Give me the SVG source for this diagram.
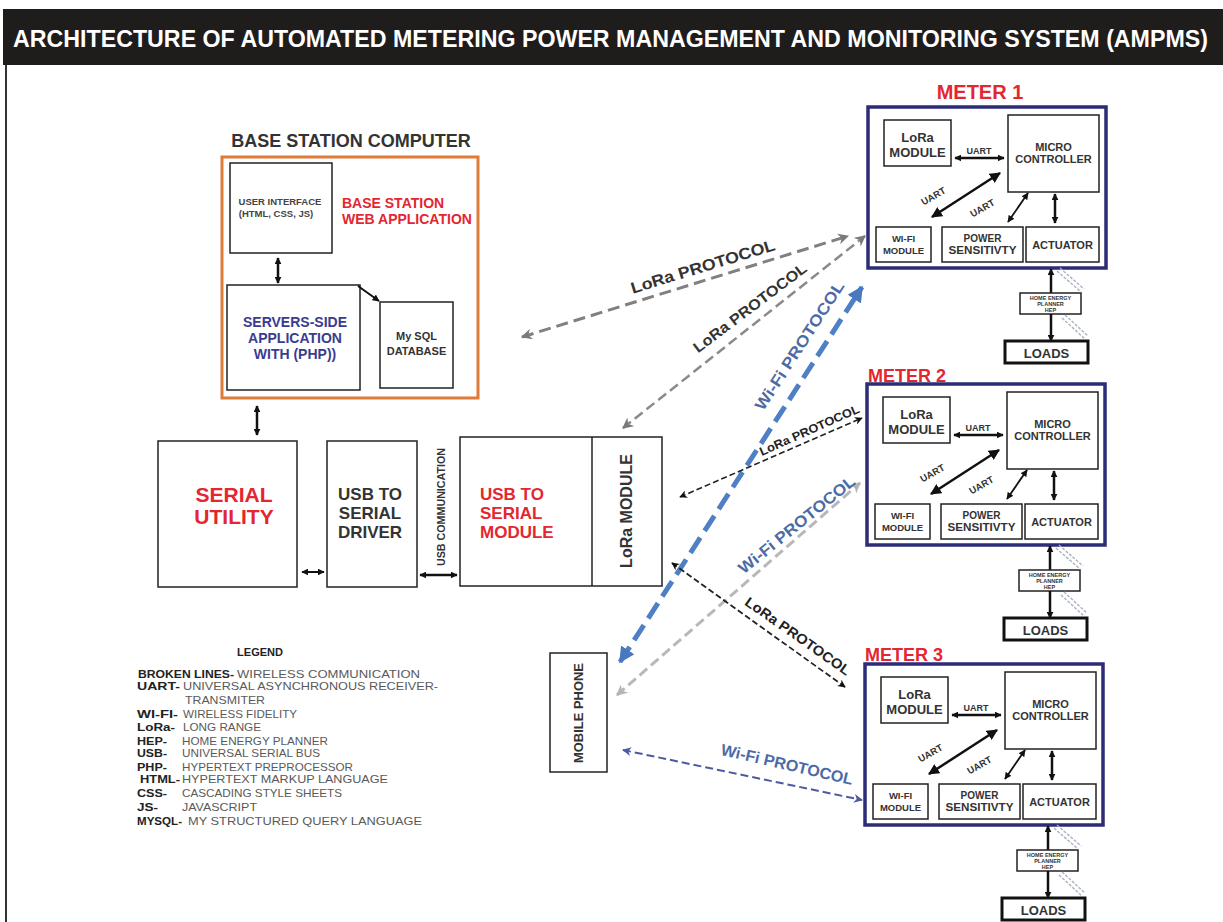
<svg xmlns="http://www.w3.org/2000/svg" width="1223" height="922" viewBox="0 0 1223 922">
<defs>
<style>
text{font-family:"Liberation Sans",Arial,sans-serif;font-weight:bold}
.c{text-anchor:middle}
.bx{fill:#fff;stroke:#222;stroke-width:1.5}
.mb{fill:#fff;stroke:#2d2c78;stroke-width:3.5}
.dk{fill:#333}
.red{fill:#e3262f}
.ar{stroke:#111;fill:none}
.lk{fill:#222;font-size:11.5px}
.lg{fill:#5a5a5a;font-size:11.5px;font-weight:normal}
.hat{stroke:#a9b3c3;stroke-width:1.4;stroke-dasharray:3 1.5;fill:none}
</style>
<marker id="hb" viewBox="0 0 10 10" refX="9" refY="5" markerWidth="7" markerHeight="7" markerUnits="userSpaceOnUse" orient="auto-start-reverse"><path d="M0,0L10,5L0,10z" fill="#111"/></marker>
<marker id="hbL" viewBox="0 0 10 10" refX="9" refY="5" markerWidth="11" markerHeight="11" markerUnits="userSpaceOnUse" orient="auto-start-reverse"><path d="M0,0L10,5L0,10z" fill="#111"/></marker>
<marker id="hg" viewBox="0 0 10 10" refX="9" refY="5" markerWidth="11" markerHeight="11" markerUnits="userSpaceOnUse" orient="auto-start-reverse"><path d="M0,0L10,5L0,10L3,5z" fill="#7a7a7a"/></marker>
<marker id="hlg" viewBox="0 0 10 10" refX="9" refY="5" markerWidth="11" markerHeight="11" markerUnits="userSpaceOnUse" orient="auto-start-reverse"><path d="M0,0L10,5L0,10L3,5z" fill="#b5b5b5"/></marker>
<marker id="hbl" viewBox="0 0 10 10" refX="9" refY="5" markerWidth="16" markerHeight="16" markerUnits="userSpaceOnUse" orient="auto-start-reverse"><path d="M0,0L10,5L0,10z" fill="#4a78bf"/></marker>
<marker id="hdb" viewBox="0 0 10 10" refX="9" refY="5" markerWidth="9" markerHeight="9" markerUnits="userSpaceOnUse" orient="auto-start-reverse"><path d="M0,0L10,5L0,10L3,5z" fill="#4e5aa0"/></marker>
<marker id="hk" viewBox="0 0 10 10" refX="9" refY="5" markerWidth="8" markerHeight="8" markerUnits="userSpaceOnUse" orient="auto-start-reverse"><path d="M0,0L10,5L0,10L3,5z" fill="#111"/></marker>
</defs>

<rect x="0" y="0" width="1223" height="922" fill="#fff"/>
<g id="title">
<rect x="3" y="9" width="1220" height="56" fill="#1f1c1c"/>
<text x="0" y="0" fill="#fff" font-size="21" textLength="1195" lengthAdjust="spacingAndGlyphs" transform="translate(13,47) scale(1,1.15)">ARCHITECTURE OF AUTOMATED METERING POWER MANAGEMENT AND MONITORING SYSTEM (AMPMS)</text>
<line x1="6" y1="65" x2="6" y2="922" stroke="#333" stroke-width="2"/>
</g>

<g id="base-station">
<text class="c" x="351" y="147" font-size="18" fill="#333">BASE STATION COMPUTER</text>
<rect x="222" y="157" width="256" height="241" fill="#fff" stroke="#e07b39" stroke-width="3"/>
<text class="red" x="342" y="208" font-size="14">BASE STATION</text>
<text class="red" x="342" y="224" font-size="14">WEB APPLICATION</text>
</g>
<g id="user-interface">
<rect class="bx" x="230" y="163" width="102" height="90"/>
<text class="c" x="280" y="205" font-size="9.5" fill="#444">USER INTERFACE</text>
<text class="c" x="276" y="217" font-size="9.5" fill="#444">(HTML, CSS, JS)</text>
</g>
<g id="server-side">
<rect class="bx" x="227" y="285" width="133" height="105"/>
<text class="c" x="295" y="327" font-size="14" fill="#3b3b8f">SERVERS-SIDE</text>
<text class="c" x="295" y="343" font-size="14" fill="#3b3b8f">APPLICATION</text>
<text class="c" x="295" y="359" font-size="14" fill="#3b3b8f">WITH (PHP))</text>
</g>
<g id="mysql">
<rect class="bx" x="380" y="302" width="73" height="86"/>
<text class="c dk" x="416.5" y="340" font-size="11">My SQL</text>
<text class="c dk" x="416.5" y="355" font-size="11">DATABASE</text>
</g>

<g id="serial-utility">
<rect class="bx" x="158" y="441" width="139" height="146"/>
<text class="c red" x="234" y="502" font-size="21">SERIAL</text>
<text class="c red" x="234" y="524" font-size="21">UTILITY</text>
</g>
<g id="usb-driver">
<rect class="bx" x="327" y="441" width="90" height="146"/>
<text class="c dk" x="370" y="500" font-size="17">USB TO</text>
<text class="c dk" x="370" y="519" font-size="17">SERIAL</text>
<text class="c dk" x="370" y="538" font-size="17">DRIVER</text>
</g>
<g id="usb-module">
<rect class="bx" x="460" y="437" width="202" height="149"/>
<line x1="592" y1="437" x2="592" y2="586" stroke="#222" stroke-width="1.5"/>
<text class="red" x="480" y="500" font-size="17">USB TO</text>
<text class="red" x="480" y="519" font-size="17">SERIAL</text>
<text class="red" x="480" y="538" font-size="17">MODULE</text>
<text class="c dk" font-size="16" transform="translate(632,511) rotate(-90)">LoRa MODULE</text>
</g>
<g id="mobile-phone">
<rect class="bx" x="550" y="653" width="57" height="119"/>
<text class="c dk" font-size="12" textLength="100" lengthAdjust="spacingAndGlyphs" transform="translate(583,713) rotate(-90)">MOBILE PHONE</text>
</g>

<g id="meter1">
<text class="c red" x="980" y="99" font-size="20">METER 1</text>
<g>
<rect class="mb" x="868" y="107" width="238" height="161"/>
<rect class="bx" x="884" y="120" width="67" height="46"/>
<text class="c dk" x="917.5" y="142" font-size="13">LoRa</text>
<text class="c dk" x="917.5" y="157" font-size="13">MODULE</text>
<rect class="bx" x="1008" y="115" width="91" height="77"/>
<text class="c dk" x="1053.5" y="151" font-size="11">MICRO</text>
<text class="c dk" x="1053.5" y="163" font-size="11">CONTROLLER</text>
<rect class="bx" x="876" y="227" width="55" height="35"/>
<text class="c dk" x="903.5" y="242" font-size="9.5">WI-FI</text>
<text class="c dk" x="903.5" y="254" font-size="9.5">MODULE</text>
<rect class="bx" x="942" y="227" width="81" height="35"/>
<text class="c dk" x="982.5" y="242" font-size="10">POWER</text>
<text class="c dk" x="982.5" y="254" font-size="10" textLength="68" lengthAdjust="spacingAndGlyphs">SENSITIVTY</text>
<rect class="bx" x="1026" y="227" width="73" height="35"/>
<text class="c dk" x="1062.5" y="249" font-size="11">ACTUATOR</text>
<line class="ar" x1="955" y1="158" x2="1004" y2="158" stroke-width="2.5" marker-start="url(#hb)" marker-end="url(#hb)"/>
<text class="c dk" x="979" y="154" font-size="9">UART</text>
<line class="ar" x1="932" y1="217" x2="1000" y2="173" stroke-width="2.5" marker-start="url(#hbL)" marker-end="url(#hbL)"/>
<text class="c dk" font-size="9.5" transform="translate(935,199) rotate(-30)">UART</text>
<text class="c dk" font-size="9.5" transform="translate(984,211) rotate(-30)">UART</text>
<line class="ar" x1="1008" y1="222" x2="1028" y2="193" stroke-width="1.8" marker-start="url(#hb)" marker-end="url(#hb)"/>
<line class="ar" x1="1055" y1="194" x2="1055" y2="223" stroke-width="2.5" marker-start="url(#hb)" marker-end="url(#hb)"/>
<line class="ar" x1="1051" y1="293" x2="1051" y2="269" stroke-width="2.5" marker-end="url(#hb)"/>
<rect class="bx" x="1020" y="293" width="61" height="21"/>
<text class="c dk" x="1050.5" y="300" font-size="5.5">HOME ENERGY</text>
<text class="c dk" x="1050.5" y="306" font-size="5.5">PLANNER</text>
<text class="c dk" x="1050.5" y="312" font-size="5.5">HEP</text>
<line class="ar" x1="1051" y1="314" x2="1051" y2="341" stroke-width="2.5" marker-end="url(#hb)"/>
<rect x="1005" y="341" width="83" height="22" fill="#fff" stroke="#111" stroke-width="3"/>
<text class="c dk" x="1046.5" y="358" font-size="13">LOADS</text>
<path class="hat" d="M1057,271L1081,292M1060,268L1084,289M1062,318L1085,339M1065,315L1088,336"/>
</g>
</g>

<g id="meter2">
<text class="red" x="868" y="382" font-size="18">METER 2</text>
<g transform="translate(-1,277)">
<rect class="mb" x="868" y="107" width="238" height="161"/>
<rect class="bx" x="884" y="120" width="67" height="46"/>
<text class="c dk" x="917.5" y="142" font-size="13">LoRa</text>
<text class="c dk" x="917.5" y="157" font-size="13">MODULE</text>
<rect class="bx" x="1008" y="115" width="91" height="77"/>
<text class="c dk" x="1053.5" y="151" font-size="11">MICRO</text>
<text class="c dk" x="1053.5" y="163" font-size="11">CONTROLLER</text>
<rect class="bx" x="876" y="227" width="55" height="35"/>
<text class="c dk" x="903.5" y="242" font-size="9.5">WI-FI</text>
<text class="c dk" x="903.5" y="254" font-size="9.5">MODULE</text>
<rect class="bx" x="942" y="227" width="81" height="35"/>
<text class="c dk" x="982.5" y="242" font-size="10">POWER</text>
<text class="c dk" x="982.5" y="254" font-size="10" textLength="68" lengthAdjust="spacingAndGlyphs">SENSITIVTY</text>
<rect class="bx" x="1026" y="227" width="73" height="35"/>
<text class="c dk" x="1062.5" y="249" font-size="11">ACTUATOR</text>
<line class="ar" x1="955" y1="158" x2="1004" y2="158" stroke-width="2.5" marker-start="url(#hb)" marker-end="url(#hb)"/>
<text class="c dk" x="979" y="154" font-size="9">UART</text>
<line class="ar" x1="932" y1="217" x2="1000" y2="173" stroke-width="2.5" marker-start="url(#hbL)" marker-end="url(#hbL)"/>
<text class="c dk" font-size="9.5" transform="translate(935,199) rotate(-30)">UART</text>
<text class="c dk" font-size="9.5" transform="translate(984,211) rotate(-30)">UART</text>
<line class="ar" x1="1008" y1="222" x2="1028" y2="193" stroke-width="1.8" marker-start="url(#hb)" marker-end="url(#hb)"/>
<line class="ar" x1="1055" y1="194" x2="1055" y2="223" stroke-width="2.5" marker-start="url(#hb)" marker-end="url(#hb)"/>
<line class="ar" x1="1051" y1="293" x2="1051" y2="269" stroke-width="2.5" marker-end="url(#hb)"/>
<rect class="bx" x="1020" y="293" width="61" height="21"/>
<text class="c dk" x="1050.5" y="300" font-size="5.5">HOME ENERGY</text>
<text class="c dk" x="1050.5" y="306" font-size="5.5">PLANNER</text>
<text class="c dk" x="1050.5" y="312" font-size="5.5">HEP</text>
<line class="ar" x1="1051" y1="314" x2="1051" y2="341" stroke-width="2.5" marker-end="url(#hb)"/>
<rect x="1005" y="341" width="83" height="22" fill="#fff" stroke="#111" stroke-width="3"/>
<text class="c dk" x="1046.5" y="358" font-size="13">LOADS</text>
<path class="hat" d="M1057,271L1081,292M1060,268L1084,289M1062,318L1085,339M1065,315L1088,336"/>
</g>
</g>

<g id="meter3">
<text class="red" x="865" y="661" font-size="18">METER 3</text>
<g transform="translate(-3,557)">
<rect class="mb" x="868" y="107" width="238" height="161"/>
<rect class="bx" x="884" y="120" width="67" height="46"/>
<text class="c dk" x="917.5" y="142" font-size="13">LoRa</text>
<text class="c dk" x="917.5" y="157" font-size="13">MODULE</text>
<rect class="bx" x="1008" y="115" width="91" height="77"/>
<text class="c dk" x="1053.5" y="151" font-size="11">MICRO</text>
<text class="c dk" x="1053.5" y="163" font-size="11">CONTROLLER</text>
<rect class="bx" x="876" y="227" width="55" height="35"/>
<text class="c dk" x="903.5" y="242" font-size="9.5">WI-FI</text>
<text class="c dk" x="903.5" y="254" font-size="9.5">MODULE</text>
<rect class="bx" x="942" y="227" width="81" height="35"/>
<text class="c dk" x="982.5" y="242" font-size="10">POWER</text>
<text class="c dk" x="982.5" y="254" font-size="10" textLength="68" lengthAdjust="spacingAndGlyphs">SENSITIVTY</text>
<rect class="bx" x="1026" y="227" width="73" height="35"/>
<text class="c dk" x="1062.5" y="249" font-size="11">ACTUATOR</text>
<line class="ar" x1="955" y1="158" x2="1004" y2="158" stroke-width="2.5" marker-start="url(#hb)" marker-end="url(#hb)"/>
<text class="c dk" x="979" y="154" font-size="9">UART</text>
<line class="ar" x1="932" y1="217" x2="1000" y2="173" stroke-width="2.5" marker-start="url(#hbL)" marker-end="url(#hbL)"/>
<text class="c dk" font-size="9.5" transform="translate(935,199) rotate(-30)">UART</text>
<text class="c dk" font-size="9.5" transform="translate(984,211) rotate(-30)">UART</text>
<line class="ar" x1="1008" y1="222" x2="1028" y2="193" stroke-width="1.8" marker-start="url(#hb)" marker-end="url(#hb)"/>
<line class="ar" x1="1055" y1="194" x2="1055" y2="223" stroke-width="2.5" marker-start="url(#hb)" marker-end="url(#hb)"/>
<line class="ar" x1="1051" y1="293" x2="1051" y2="269" stroke-width="2.5" marker-end="url(#hb)"/>
<rect class="bx" x="1020" y="293" width="61" height="21"/>
<text class="c dk" x="1050.5" y="300" font-size="5.5">HOME ENERGY</text>
<text class="c dk" x="1050.5" y="306" font-size="5.5">PLANNER</text>
<text class="c dk" x="1050.5" y="312" font-size="5.5">HEP</text>
<line class="ar" x1="1051" y1="314" x2="1051" y2="341" stroke-width="2.5" marker-end="url(#hb)"/>
<rect x="1005" y="341" width="83" height="22" fill="#fff" stroke="#111" stroke-width="3"/>
<text class="c dk" x="1046.5" y="358" font-size="13">LOADS</text>
<path class="hat" d="M1057,271L1081,292M1060,268L1084,289M1062,318L1085,339M1065,315L1088,336"/>
</g>
</g>

<g id="connectors">
<line class="ar" x1="278" y1="258" x2="278" y2="283" stroke-width="2.5" marker-start="url(#hb)" marker-end="url(#hb)"/>
<line class="ar" x1="358" y1="286" x2="379" y2="301" stroke-width="2" marker-end="url(#hb)"/>
<line class="ar" x1="257" y1="406" x2="257" y2="435" stroke-width="2.5" marker-start="url(#hb)" marker-end="url(#hb)"/>
<line class="ar" x1="302" y1="572" x2="324" y2="572" stroke-width="2" marker-start="url(#hb)" marker-end="url(#hb)"/>
<line class="ar" x1="420" y1="575" x2="457" y2="575" stroke-width="2.5" marker-start="url(#hb)" marker-end="url(#hb)"/>
<text class="c dk" font-size="10" textLength="118" lengthAdjust="spacingAndGlyphs" transform="translate(445,507) rotate(-90)">USB COMMUNICATION</text>

<line x1="522" y1="337" x2="848" y2="236" stroke="#808080" stroke-width="3" stroke-dasharray="12 6" marker-start="url(#hg)" marker-end="url(#hg)"/>
<text class="c dk" font-size="16" textLength="150" lengthAdjust="spacingAndGlyphs" transform="translate(703,267) rotate(-17)" y="5">LoRa PROTOCOL</text>

<line x1="623" y1="428" x2="865" y2="236" stroke="#8a8a8a" stroke-width="2.5" stroke-dasharray="10 5" marker-start="url(#hg)" marker-end="url(#hg)"/>
<text class="c dk" font-size="15" textLength="138" lengthAdjust="spacingAndGlyphs" transform="translate(750,308) rotate(-37)" y="5">LoRa PROTOCOL</text>

<line x1="620" y1="662" x2="862" y2="287" stroke="#4f7fc4" stroke-width="5" stroke-dasharray="18 8" marker-start="url(#hbl)" marker-end="url(#hbl)"/>
<text class="c" font-size="16" fill="#4c6ba6" textLength="150" lengthAdjust="spacingAndGlyphs" transform="translate(800,346) rotate(-57)" y="5">Wi-Fi PROTOCOL</text>

<line x1="680" y1="497" x2="862" y2="418" stroke="#222" stroke-width="1.6" stroke-dasharray="6 3" marker-start="url(#hk)" marker-end="url(#hk)"/>
<text class="c" font-size="12" fill="#222" textLength="108" lengthAdjust="spacingAndGlyphs" transform="translate(811,434) rotate(-24)" y="0">LoRa PROTOCOL</text>

<line x1="617" y1="695" x2="860" y2="483" stroke="#b8b8b8" stroke-width="3" stroke-dasharray="10 5" marker-start="url(#hlg)" marker-end="url(#hlg)"/>
<text class="c" font-size="16" fill="#4c6ba6" textLength="145" lengthAdjust="spacingAndGlyphs" transform="translate(797,525) rotate(-39)" y="5">Wi-Fi PROTOCOL</text>

<line x1="672" y1="563" x2="845" y2="687" stroke="#222" stroke-width="1.8" stroke-dasharray="6 3" marker-start="url(#hk)" marker-end="url(#hk)"/>
<text class="c" font-size="14" fill="#222" textLength="125" lengthAdjust="spacingAndGlyphs" transform="translate(795,640) rotate(35)" y="0">LoRa PROTOCOL</text>

<line x1="623" y1="750" x2="862" y2="800" stroke="#4e5aa0" stroke-width="2" stroke-dasharray="8 4" marker-start="url(#hdb)" marker-end="url(#hdb)"/>
<text class="c" font-size="16" fill="#4c6ba6" textLength="135" lengthAdjust="spacingAndGlyphs" transform="translate(787,765) rotate(13)" y="5">Wi-Fi PROTOCOL</text>
</g>

<g id="legend">
<text class="c" x="260" y="656" font-size="11" fill="#222">LEGEND</text>
<text class="lk" x="138" y="678" textLength="96" lengthAdjust="spacingAndGlyphs">BROKEN LINES-</text>
<text class="lg" x="237" y="678" textLength="183" lengthAdjust="spacingAndGlyphs">WIRELESS COMMUNICATION</text>
<text class="lk" x="137" y="690" textLength="43" lengthAdjust="spacingAndGlyphs">UART-</text>
<text class="lg" x="183" y="690" textLength="255" lengthAdjust="spacingAndGlyphs">UNIVERSAL ASYNCHRONOUS RECEIVER-</text>
<text class="lg" x="185" y="704" textLength="80" lengthAdjust="spacingAndGlyphs">TRANSMITER</text>
<text class="lk" x="137" y="718" textLength="41" lengthAdjust="spacingAndGlyphs">WI-FI-</text>
<text class="lg" x="183" y="718" textLength="114" lengthAdjust="spacingAndGlyphs">WIRELESS FIDELITY</text>
<text class="lk" x="137" y="731" textLength="38" lengthAdjust="spacingAndGlyphs">LoRa-</text>
<text class="lg" x="183" y="731" textLength="78" lengthAdjust="spacingAndGlyphs">LONG RANGE</text>
<text class="lk" x="137" y="745" textLength="30" lengthAdjust="spacingAndGlyphs">HEP-</text>
<text class="lg" x="182" y="745" textLength="146" lengthAdjust="spacingAndGlyphs">HOME ENERGY PLANNER</text>
<text class="lk" x="137" y="757" textLength="30" lengthAdjust="spacingAndGlyphs">USB-</text>
<text class="lg" x="182" y="757" textLength="138" lengthAdjust="spacingAndGlyphs">UNIVERSAL SERIAL BUS</text>
<text class="lk" x="137" y="771" textLength="30" lengthAdjust="spacingAndGlyphs">PHP-</text>
<text class="lg" x="182" y="771" textLength="171" lengthAdjust="spacingAndGlyphs">HYPERTEXT PREPROCESSOR</text>
<text class="lk" x="140" y="783" textLength="40" lengthAdjust="spacingAndGlyphs">HTML-</text>
<text class="lg" x="182" y="783" textLength="206" lengthAdjust="spacingAndGlyphs">HYPERTEXT MARKUP LANGUAGE</text>
<text class="lk" x="137" y="797" textLength="30" lengthAdjust="spacingAndGlyphs">CSS-</text>
<text class="lg" x="182" y="797" textLength="160" lengthAdjust="spacingAndGlyphs">CASCADING STYLE SHEETS</text>
<text class="lk" x="137" y="811" textLength="21" lengthAdjust="spacingAndGlyphs">JS-</text>
<text class="lg" x="182" y="811" textLength="75" lengthAdjust="spacingAndGlyphs">JAVASCRIPT</text>
<text class="lk" x="137" y="825" textLength="45" lengthAdjust="spacingAndGlyphs">MYSQL-</text>
<text class="lg" x="188" y="825" textLength="234" lengthAdjust="spacingAndGlyphs">MY STRUCTURED QUERY LANGUAGE</text>
</g>
</svg>
